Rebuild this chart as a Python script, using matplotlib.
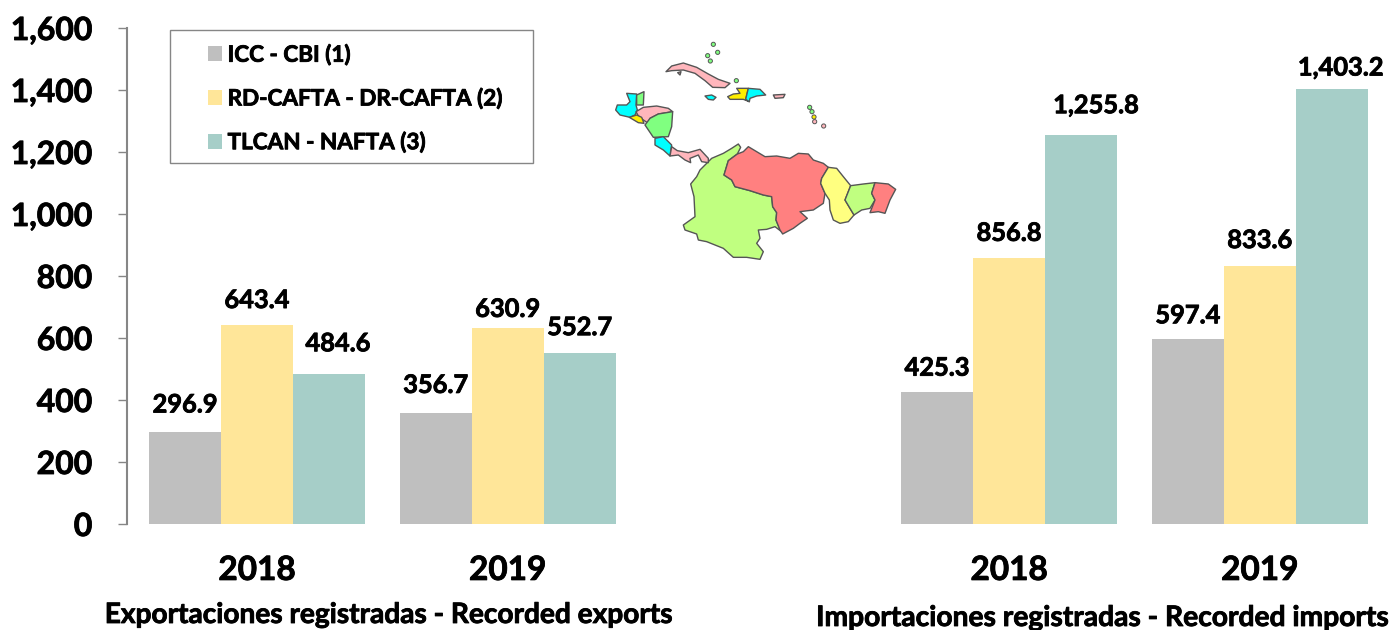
#!/usr/bin/env python3
import matplotlib
matplotlib.use('Agg')
import matplotlib.pyplot as plt
import matplotlib.patheffects as pe
from matplotlib.patches import Polygon, Rectangle
from matplotlib.text import Text

plt.rcParams['font.family'] = ['Lato', 'DejaVu Sans']
plt.rcParams['font.weight'] = 'bold'

W, H = 1392, 630

# Data
years = ['2018', '2019', '2018', '2019']
year_pos = [0, 1, 3, 4]
series_names = ['ICC - CBI (1)', 'RD-CAFTA - DR-CAFTA (2)', 'TLCAN - NAFTA (3)']
cbi = [296.9, 356.7, 425.3, 597.4]
cafta = [643.4, 630.9, 856.8, 833.6]
nafta = [484.6, 552.7, 1255.8, 1403.2]
colors = ['#BFBFBF', '#FFE699', '#A6CEC8']
y_ticks = [0, 200, 400, 600, 800, 1000, 1200, 1400, 1600]

# label nudges in px (dx, dy above the bar top)
cbi_nudge = [(0, 27), (0, 28), (0, 24), (0, 23)]
cafta_nudge = [(0, 24), (0, 19), (0, 25), (0, 25)]
nafta_nudge = [(9, 30), (0, 25), (15, 29), (9, 21)]

# Map outlines (crop px, 600,30 origin, 3x)
land = [
    # colombia
    ('#C0FF80', [(415,342),(422,352),(412,372),(385,392),(372,435),(395,450),(405,470),(450,482),(490,495),(515,500),(518,530),(530,548),(528,570),(542,603),(525,590),(500,598),(475,600),(480,625),(470,640),(490,665),(480,688),(440,682),(400,682),(370,655),(320,635),(295,630),(290,612),(255,600),(250,585),(285,560),(282,500),(272,462),(290,440),(300,420),(335,385),(370,370),(395,355)]),
    # venezuela
    ('#FF8080', [(445,350),(470,365),(495,380),(530,378),(570,385),(595,370),(625,372),(640,390),(670,400),(685,412),(665,445),(662,460),(675,490),(670,520),(640,540),(600,545),(622,565),(600,580),(580,595),(548,612),(540,600),(528,570),(530,548),(518,530),(515,500),(490,495),(450,482),(405,470),(395,450),(372,435),(385,392),(412,372),(430,365)]),
    # guyana, suriname, french guiana
    ('#FFFF80', [(685,412),(710,415),(730,440),(752,467),(735,510),(762,555),(745,575),(720,580),(700,570),(690,540),(688,510),(675,490),(662,460),(665,445)]),
    ('#C0FF80', [(752,467),(790,462),(825,458),(815,490),(825,510),(810,535),(785,540),(762,555),(735,510)]),
    ('#FF8080', [(825,458),(865,462),(887,478),(870,510),(855,550),(835,545),(810,548),(825,510),(815,490)]),
    # central america
    ('#00FFFF', [(80,190),(110,192),(108,225),(112,240),(105,255),(90,262),(60,255),(47,240),(52,225),(80,225),(90,215)]),
    ('#80FF80', [(110,195),(132,185),(130,225),(110,225)]),
    ('#FFB6BC', [(108,245),(130,232),(170,228),(205,235),(218,245),(175,252),(150,265),(145,280),(130,270),(115,258)]),
    ('#FFEE00', [(88,262),(110,255),(125,262),(132,280),(115,278)]),
    ('#80FF80', [(218,245),(215,290),(205,320),(160,322),(135,285),(150,265),(175,252)]),
    ('#00FFFF', [(165,325),(190,320),(215,345),(210,378),(190,360),(165,345)]),
    ('#FFB6BC', [(215,350),(232,362),(265,368),(300,358),(325,385),(325,398),(305,395),(295,375),(270,385),(272,398),(255,390),(235,375),(210,378)]),
    # antilles
    ('#FFB6BC', [(198,125),(215,108),(250,99),(290,112),(325,132),(355,148),(390,160),(375,173),(338,172),(315,152),(285,130),(250,120),(215,122)]),
    ('#FFB6BC', [(233,128),(243,125),(240,135)]),
    ('#00FFFF', [(315,198),(335,195),(348,202),(340,210),(325,208)]),
    ('#FFEE00', [(410,175),(445,175),(437,208),(448,215),(430,208),(390,208),(383,200),(400,192),(420,190)]),
    ('#00FFFF', [(445,175),(480,178),(497,195),(470,198),(450,205),(448,215),(437,208)]),
    ('#FFB6BC', [(520,195),(555,193),(550,203),(525,205)]),
]
islets_x = [340, 323, 331, 353, 409, 629, 636, 642, 644, 671]
islets_y = [43, 77, 93, 67, 152, 232, 245, 261, 275, 288]
islets_c = ['#80FF80', '#80FF80', '#80FF80', '#80FF80', '#80FF80', '#80FF80', '#80FF80', '#FFEE00', '#FFB6BC', '#FFB6BC']

fig = plt.figure(figsize=(W / 100, H / 100), dpi=100)

# axes box set so 0 -> y=524px and 1600 -> y=28px
step = 250.7
ax = fig.add_axes([127 / W, 1 - 524 / H, (1385 - 127) / W, (524 - 28) / H])
ax.set_xlim((127 - 257) / step, (1385 - 257) / step)
ax.set_ylim(0, 1600)

bar_w = 72 / step
for i, (vals, nudges) in enumerate(zip([cbi, cafta, nafta], [cbi_nudge, cafta_nudge, nafta_nudge])):
    xs = [p + (i - 1) * bar_w for p in year_pos]
    ax.bar(xs, vals, bar_w, color=colors[i], label=series_names[i])
    for x, v, (dx, dy) in zip(xs, vals, nudges):
        ax.annotate(f'{v:,.1f}', (x, v), xytext=(dx * 0.72, dy * 0.72), textcoords='offset points',
                    ha='center', va='center', fontsize=18.3, color='black')

for s in ['top', 'right', 'bottom']:
    ax.spines[s].set_visible(False)
ax.spines['left'].set_color('#868686')
ax.spines['left'].set_linewidth(1.5)
ax.set_yticks(y_ticks)
ax.set_yticklabels([f'{t:,}' for t in y_ticks], fontsize=23, va='center_baseline')
ax.tick_params(axis='y', length=6.5, width=1, color='#868686', pad=18.5)
ax.set_xticks(year_pos)
ax.set_xticklabels(years, fontsize=24)
ax.tick_params(axis='x', length=0, pad=23)

fig.text(388 / W, 1 - 615 / H, 'Exportaciones registradas - Recorded exports',
         ha='center', va='center', fontsize=20.2)
fig.text(1103.5 / W, 1 - 618 / H, 'Importaciones registradas - Recorded imports',
         ha='center', va='center', fontsize=20.3)

# legend box plus frameless legend inside
fig.add_artist(Rectangle((170 / W, 1 - 163 / H), 363 / W, 133 / H, transform=fig.transFigure,
                         facecolor='white', edgecolor='#868686', linewidth=1, zorder=3))
leg = fig.legend(loc='upper left', bbox_to_anchor=(208 / W, 1 - 44 / H), frameon=False,
                 fontsize=16.2, handlelength=0.62, handleheight=0.62, handletextpad=0.25,
                 labelspacing=0.98, borderpad=0, borderaxespad=0)
leg.set_zorder(4)

# map
mp = fig.add_axes([600 / W, 1 - 270 / H, 310 / W, 240 / H])
mp.set_xlim(0, 930)
mp.set_ylim(720, 0)
mp.axis('off')
for color, pts in land:
    mp.add_patch(Polygon(pts, closed=True, facecolor=color, edgecolor='#555555', linewidth=1, joinstyle='round'))
mp.scatter(islets_x, islets_y, s=9, c=islets_c, edgecolors='#555555', linewidths=0.7)

# the lettering in the original is heavier than Lato Bold
for t in fig.findobj(Text):
    t.set_path_effects([pe.withStroke(linewidth=0.6, foreground='black')])

fig.savefig('out.png', dpi=100)
